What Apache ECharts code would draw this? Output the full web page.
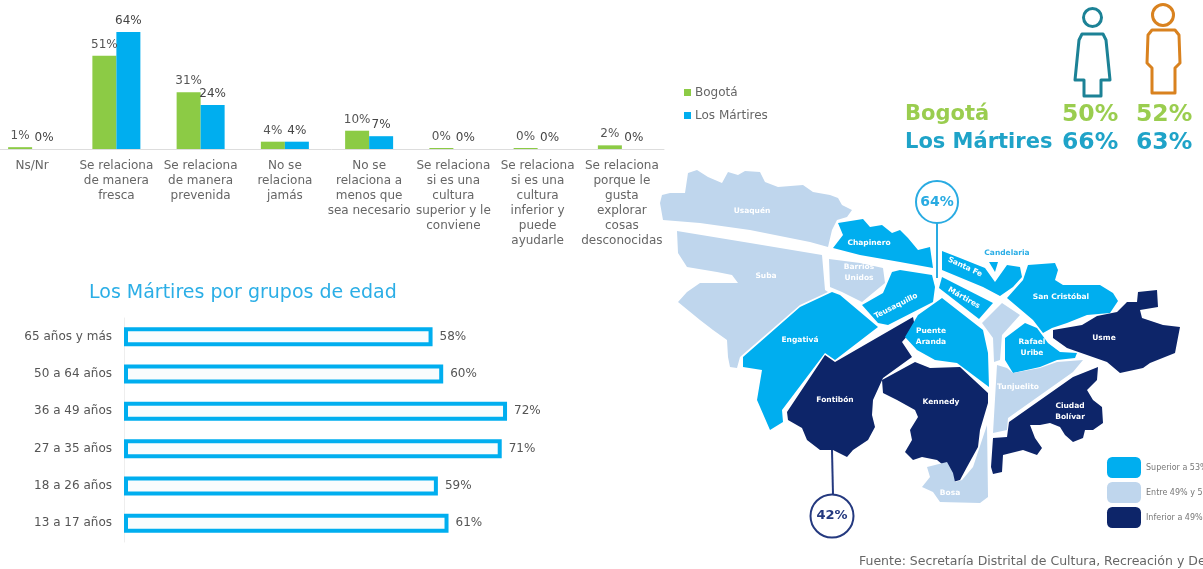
<!DOCTYPE html>
<html>
<head>
<meta charset="utf-8">
<title>Los Mártires</title>
<script src="https://cdn.jsdelivr.net/npm/echarts@6/dist/echarts.min.js"></script>
<style>
  html, body { margin: 0; padding: 0; background: #fff; }
  #main { width: 1203px; height: 569px; }
</style>
</head>
<body>
<div id="main"></div>
<script>
// grafico de barras: relacion con otras culturas
const relationCategories = [
  "Ns/Nr",
  "Se relaciona\nde manera\nfresca",
  "Se relaciona\nde manera\nprevenida",
  "No se\nrelaciona\njamás",
  "No se\nrelaciona a\nmenos que\nsea necesario",
  "Se relaciona\nsi es una\ncultura\nsuperior y le\nconviene",
  "Se relaciona\nsi es una\ncultura\ninferior y\npuede\nayudarle",
  "Se relaciona\nporque le\ngusta\nexplorar\ncosas\ndesconocidas"
];
const bogotaValues = [1, 51, 31, 4, 10, 0, 0, 2];
const martiresValues = [0, 64, 24, 4, 7, 0, 0, 0];

// grupos de edad
const ageGroups = ["65 años y más", "50 a 64 años", "36 a 49 años", "27 a 35 años", "18 a 26 años", "13 a 17 años"];
const ageValues = [58, 60, 72, 71, 59, 61];

// mujeres / hombres
const statRows = ["Bogotá", "Los Mártires"];
const womenValues = [50, 66];
const menValues = [52, 63];

// mapa: 2 superior, 1 entre, 0 inferior
const districtNames = ["Usaquén", "Suba", "Chapinero", "Barrios\nUnidos", "Teusaquillo", "Engativá", "Fontibón", "Puente\nAranda", "Kennedy", "Santa Fe", "Candelaria", "Mártires", "Antonio Nariño", "Rafael\nUribe", "San Cristóbal", "Usme", "Tunjuelito", "Ciudad\nBolívar", "Bosa"];
const districtTiers = [1, 1, 2, 1, 2, 2, 0, 2, 0, 2, 2, 2, 1, 2, 2, 0, 1, 0, 1];
const tierLabels = ["Inferior a 49%", "Entre 49% y 53%", "Superior a 53%"];
const martiresCallout = 64;
const fontibonCallout = 42;

const GREEN = "#8CCB45";
const BLUE = "#00AEEF";
const PALE = "#BFD6ED";
const NAVY = "#0D2569";
const TEXT = "#666";
const FONT = "DejaVu Sans";

// contornos de las localidades en pixeles de la imagen
const districtShapes = {
  "Usaquén": [[662,195],[670,193],[685,193],[688,173],[697,170],[708,177],[722,183],[728,172],[738,175],[745,171],[760,172],[765,182],[778,187],[803,185],[813,192],[830,195],[838,198],[842,205],[852,210],[847,217],[837,220],[832,230],[828,247],[810,242],[750,230],[700,223],[663,220],[660,203]],
  "Suba": [[677,231],[750,243],[822,255],[825,290],[828,292],[800,305],[740,357],[737,368],[730,367],[728,357],[727,340],[713,330],[700,320],[678,302],[687,292],[700,283],[723,283],[738,283],[732,275],[717,272],[687,267],[678,253]],
  "Chapinero": [[838,223],[863,219],[870,227],[882,225],[892,233],[900,230],[908,238],[918,250],[930,247],[933,268],[900,262],[860,255],[833,248],[843,235]],
  "Barrios\nUnidos": [[829,259],[860,263],[883,268],[885,283],[862,302],[842,292],[830,287]],
  "Teusaquillo": [[892,272],[900,270],[932,275],[935,287],[933,302],[888,325],[878,323],[862,305],[883,293]],
  "Engativá": [[832,292],[840,295],[878,327],[835,360],[825,353],[782,410],[783,422],[770,430],[757,400],[762,370],[743,367],[743,357],[800,307]],
  "Fontibón": [[825,355],[835,362],[913,317],[915,327],[902,342],[912,357],[883,378],[873,400],[872,415],[875,427],[868,440],[853,450],[847,457],[833,450],[820,450],[807,440],[802,428],[788,420],[787,412]],
  "Puente\nAranda": [[942,298],[983,330],[988,353],[989,387],[957,363],[935,360],[917,350],[905,337],[918,315]],
  "Kennedy": [[915,362],[930,368],[960,367],[988,393],[988,403],[980,430],[978,447],[967,467],[960,480],[953,482],[952,472],[937,460],[922,457],[913,460],[905,452],[912,440],[910,430],[918,417],[915,410],[897,400],[883,393],[882,380]],
  "Santa Fe": [[942,251],[960,258],[985,268],[995,282],[1007,265],[1020,267],[1022,277],[1013,287],[1000,296],[983,287],[942,270]],
  "Candelaria": [[989,262],[998,262],[995,272]],
  "Mártires": [[942,277],[993,303],[979,319],[939,288]],
  "Antonio Nariño": [[1002,303],[1020,315],[1002,335],[1000,360],[994,362],[993,338],[982,323]],
  "Rafael\nUribe": [[1025,323],[1037,328],[1048,343],[1060,352],[1077,353],[1075,358],[1057,360],[1040,367],[1013,373],[1005,360],[1005,338]],
  "San Cristóbal": [[1028,265],[1055,263],[1058,270],[1055,280],[1063,285],[1100,285],[1113,293],[1118,301],[1110,313],[1087,315],[1067,323],[1052,328],[1043,333],[1033,320],[1007,298],[1023,280]],
  "Usme": [[1138,292],[1157,290],[1158,307],[1140,310],[1142,318],[1163,325],[1180,327],[1175,353],[1150,363],[1143,368],[1120,373],[1107,362],[1087,355],[1067,348],[1053,338],[1053,330],[1082,325],[1097,316],[1117,312],[1127,302],[1137,302]],
  "Tunjuelito": [[997,365],[1007,368],[1013,373],[1040,368],[1057,362],[1083,360],[1073,372],[1008,418],[1007,430],[993,433]],
  "Ciudad\nBolívar": [[1098,367],[1097,380],[1087,390],[1093,400],[1102,407],[1103,423],[1093,430],[1085,430],[1083,438],[1073,442],[1065,435],[1060,427],[1050,423],[1040,425],[1030,425],[1035,438],[1042,448],[1037,455],[1023,450],[1003,455],[1002,472],[993,474],[991,467],[993,438],[1007,437],[1009,422],[1073,377]],
  "Bosa": [[927,467],[947,462],[953,473],[955,482],[962,480],[973,467],[981,443],[987,425],[988,497],[980,503],[940,502],[933,492],[922,487],[930,477]]
};

// donde va el nombre de cada localidad
const districtLabelAt = {
  "Usaquén": [752,211], "Suba": [766,276], "Chapinero": [869,243], "Barrios\nUnidos": [859,273],
  "Teusaquillo": [896,306], "Engativá": [800,340], "Fontibón": [835,400], "Puente\nAranda": [931,337],
  "Kennedy": [941,402], "Santa Fe": [965,267], "Candelaria": [1007,253], "Mártires": [964,298],
  "Antonio Nariño": [1000,320], "Rafael\nUribe": [1032,348], "San Cristóbal": [1061,297], "Usme": [1104,338],
  "Tunjuelito": [1018,387], "Ciudad\nBolívar": [1070,412], "Bosa": [950,493]
};
const labelRotate = { "Teusaquillo": 27, "Santa Fe": -25, "Mártires": -30 };

echarts.registerMap("bogota", {
  type: "FeatureCollection",
  features: districtNames.map(function (name) {
    return {
      type: "Feature",
      properties: { name: name, cp: districtLabelAt[name] },
      geometry: { type: "Polygon", coordinates: [districtShapes[name].concat([districtShapes[name][0]])] }
    };
  })
});

function percent(p) {
  return p.value + "%";
}

const myChart = echarts.init(document.getElementById("main"));

myChart.setOption({
  animation: false,
  textStyle: { fontFamily: FONT },
  title: {
    text: "Los Mártires por grupos de edad",
    left: 84,
    top: 279,
    textStyle: { color: "#2BAEE6", fontSize: 19, fontWeight: "normal", fontFamily: FONT }
  },
  legend: {
    data: ["Bogotá", "Los Mártires"],
    orient: "vertical",
    left: 684,
    top: 86,
    padding: 0,
    icon: "rect",
    itemWidth: 7,
    itemHeight: 7,
    itemGap: 10,
    selectedMode: false,
    textStyle: { color: TEXT, fontSize: 12, fontFamily: FONT, padding: [0, 0, 0, -1], lineHeight: 13 }
  },
  visualMap: {
    type: "piecewise",
    seriesIndex: 3,
    dimension: 0,
    left: 1107,
    top: 457,
    orient: "vertical",
    align: "left",
    padding: 0,
    itemWidth: 34,
    itemHeight: 21,
    itemGap: 4,
    itemSymbol: "roundRect",
    textGap: 5,
    selectedMode: false,
    textStyle: { color: "#777", fontSize: 8, fontFamily: FONT },
    pieces: [
      { value: 2, label: tierLabels[2], color: BLUE },
      { value: 1, label: tierLabels[1], color: PALE },
      { value: 0, label: tierLabels[0], color: NAVY }
    ]
  },
  grid: [
    { left: -10, top: 21, width: 674, height: 128, outerBoundsMode: "none" },
    { left: 124, top: 318, width: 425.6, height: 224, outerBoundsMode: "none" }
  ],
  xAxis: [
    {
      gridIndex: 0,
      type: "category",
      data: relationCategories,
      axisTick: { show: false },
      axisLine: { lineStyle: { color: "#ddd" } },
      axisLabel: { interval: 0, color: TEXT, fontSize: 12, lineHeight: 15, margin: 9, fontFamily: FONT }
    },
    { gridIndex: 1, type: "value", min: 0, max: 80, show: false }
  ],
  yAxis: [
    { gridIndex: 0, type: "value", min: 0, max: 70, show: false },
    {
      gridIndex: 1,
      type: "category",
      inverse: true,
      data: ageGroups,
      axisTick: { show: false },
      axisLine: { lineStyle: { color: "#eee" } },
      axisLabel: { color: "#555", fontSize: 12, margin: 12, fontFamily: FONT }
    }
  ],
  series: [
    {
      name: "Bogotá",
      type: "bar",
      xAxisIndex: 0,
      yAxisIndex: 0,
      data: bogotaValues,
      barWidth: 24,
      barGap: 0,
      barMinHeight: 1,
      itemStyle: { color: GREEN },
      label: { show: true, position: "top", distance: 5, formatter: percent, color: "#555", fontSize: 12 }
    },
    {
      name: "Los Mártires",
      type: "bar",
      xAxisIndex: 0,
      yAxisIndex: 0,
      data: martiresValues,
      barWidth: 24,
      barGap: 0,
      itemStyle: { color: BLUE },
      label: { show: true, position: "top", distance: 5, formatter: percent, color: "#444", fontSize: 12 }
    },
    {
      name: "Edad",
      type: "bar",
      xAxisIndex: 1,
      yAxisIndex: 1,
      data: ageValues,
      barWidth: 19,
      itemStyle: { color: "#F9FCFD", borderColor: BLUE, borderWidth: 4 },
      label: { show: true, position: "right", distance: 7, formatter: percent, color: "#555", fontSize: 12 }
    },
    {
      name: "Localidades",
      type: "map",
      map: "bogota",
      silent: true,
      roam: false,
      showLegendSymbol: false,
      left: 0,
      top: 0,
      width: 1203,
      height: 569,
      boundingCoords: [[0, 0], [1203, 569]],
      projection: {
        project: function (p) { return p; },
        unproject: function (p) { return p; }
      },
      itemStyle: { borderWidth: 0 },
      label: { show: true, color: "#fff", fontSize: 7.5, fontWeight: "bold", lineHeight: 11, fontFamily: FONT },
      data: districtNames.map(function (name, i) {
        const label = {};
        if (labelRotate[name]) label.rotate = labelRotate[name];
        if (name === "Candelaria") label.color = "#2BAEE6";
        if (name === "Antonio Nariño") label.show = false;
        return { name: name, value: districtTiers[i], label: label };
      })
    }
  ],
  graphic: [
    // mujer
    { type: "circle", shape: { cx: 1092.5, cy: 17.5, r: 9 }, style: { fill: "none", stroke: "#1C8296", lineWidth: 3 } },
    { type: "polygon", shape: { points: [[1082,34],[1103,34],[1106,40],[1110,80],[1101,80],[1101,96],[1084,96],[1084,80],[1075,80],[1079,40]] }, style: { fill: "none", stroke: "#1C8296", lineWidth: 3, lineJoin: "round" } },
    // hombre
    { type: "circle", shape: { cx: 1163, cy: 15, r: 10.5 }, style: { fill: "none", stroke: "#D9821F", lineWidth: 3 } },
    { type: "polygon", shape: { points: [[1152,30],[1175,30],[1179,35],[1180,63],[1175,68],[1175,93],[1152,93],[1152,68],[1147,63],[1148,35]] }, style: { fill: "none", stroke: "#D9821F", lineWidth: 3, lineJoin: "round" } },
    // cifras
    { type: "text", x: 905, y: 104, style: { text: statRows[0], fill: "#9ACD4F", font: "bold 21px DejaVu Sans" } },
    { type: "text", x: 905, y: 132, style: { text: statRows[1], fill: "#1FA3C8", font: "bold 21px DejaVu Sans" } },
    { type: "text", x: 1062, y: 103, style: { text: womenValues[0] + "%", fill: "#9ACD4F", font: "bold 23.5px DejaVu Sans" } },
    { type: "text", x: 1062, y: 131, style: { text: womenValues[1] + "%", fill: "#1FA3C8", font: "bold 23.5px DejaVu Sans" } },
    { type: "text", x: 1136, y: 103, style: { text: menValues[0] + "%", fill: "#9ACD4F", font: "bold 23.5px DejaVu Sans" } },
    { type: "text", x: 1136, y: 131, style: { text: menValues[1] + "%", fill: "#1FA3C8", font: "bold 23.5px DejaVu Sans" } },
    // llamadas del mapa
    { type: "line", z: 10, shape: { x1: 937, y1: 222, x2: 937, y2: 278 }, style: { stroke: "#29ABE2", lineWidth: 2 } },
    { type: "circle", z: 10, shape: { cx: 937, cy: 202, r: 21 }, style: { fill: "#fff", stroke: "#29ABE2", lineWidth: 2 } },
    { type: "text", z: 11, x: 937, y: 202, style: { text: martiresCallout + "%", fill: "#29ABE2", font: "bold 14px DejaVu Sans", align: "center", verticalAlign: "middle" } },
    { type: "line", z: 10, shape: { x1: 832, y1: 450, x2: 833, y2: 495 }, style: { stroke: "#24397F", lineWidth: 2 } },
    { type: "circle", z: 10, shape: { cx: 832, cy: 516, r: 21.5 }, style: { fill: "#fff", stroke: "#24397F", lineWidth: 2 } },
    { type: "text", z: 11, x: 832, y: 516, style: { text: fontibonCallout + "%", fill: "#24397F", font: "bold 13px DejaVu Sans", align: "center", verticalAlign: "middle" } },
    // fuente
    { type: "text", x: 859, y: 555, style: { text: "Fuente: Secretaría Distrital de Cultura, Recreación y Deporte", fill: "#666", font: "12.5px DejaVu Sans" } }
  ]
});
</script>
</body>
</html>
